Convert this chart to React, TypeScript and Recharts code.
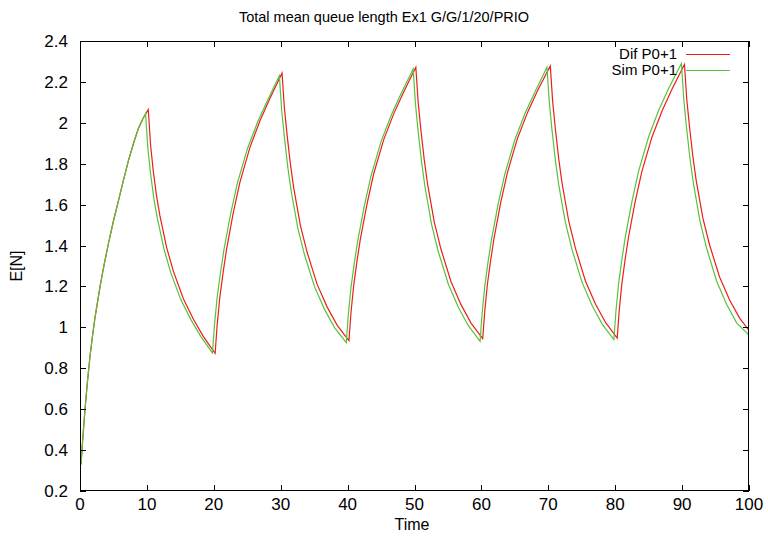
import React from 'react';
import { LineChart, Line, XAxis, YAxis } from 'recharts';

const difTime = [
  0.15, 0.4, 0.75, 1.1, 1.5, 1.9, 2.25, 2.6, 3.0, 3.6, 4.25, 5.0, 5.75, 6.5, 7.2, 8.0, 8.7, 9.4,
  10.2, 10.55, 10.95, 11.45, 11.95, 12.95, 13.95, 15.45, 16.95, 18.45,
  20.2, 20.5, 20.9, 21.4, 21.9, 22.9, 23.9, 25.4, 26.9, 28.4,
  30.2, 30.55, 30.95, 31.45, 31.95, 32.95, 33.95, 35.45, 36.95, 38.45,
  40.2, 40.5, 40.9, 41.4, 41.9, 42.9, 43.9, 45.4, 46.9, 48.4,
  50.2, 50.55, 50.95, 51.45, 51.95, 52.95, 53.95, 55.45, 56.95, 58.45,
  60.2, 60.5, 60.9, 61.4, 61.9, 62.9, 63.9, 65.4, 66.9, 68.4,
  70.3, 70.65, 71.05, 71.55, 72.05, 73.05, 74.05, 75.55, 77.05, 78.55,
  80.3, 80.6, 81.0, 81.5, 82.0, 83.0, 84.0, 85.5, 87.0, 88.5,
  90.35, 90.7, 91.1, 91.6, 92.1, 93.1, 94.1, 95.6, 97.1, 98.6, 100,
];
const difValue = [
  0.33, 0.45, 0.6, 0.73, 0.86, 0.965, 1.05, 1.12, 1.2, 1.305, 1.41, 1.52, 1.62, 1.72, 1.81, 1.9, 1.97, 2.02,
  2.065, 1.89, 1.765, 1.64, 1.545, 1.39, 1.275, 1.14, 1.04, 0.955,
  0.873, 1.01, 1.147, 1.27, 1.38, 1.558, 1.709, 1.88, 2.01, 2.12,
  2.243, 2.073, 1.942, 1.798, 1.681, 1.497, 1.367, 1.21, 1.099, 1.01,
  0.935, 1.069, 1.202, 1.323, 1.43, 1.603, 1.751, 1.918, 2.045, 2.152,
  2.272, 2.099, 1.967, 1.821, 1.701, 1.516, 1.383, 1.224, 1.111, 1.021,
  0.945, 1.078, 1.212, 1.332, 1.438, 1.612, 1.758, 1.925, 2.051, 2.158,
  2.278, 2.105, 1.972, 1.826, 1.706, 1.52, 1.387, 1.227, 1.114, 1.024,
  0.948, 1.082, 1.215, 1.336, 1.443, 1.617, 1.764, 1.931, 2.058, 2.165,
  2.285, 2.114, 1.983, 1.838, 1.72, 1.535, 1.404, 1.246, 1.134, 1.045, 0.985,
];

const simTime = [
  0.15, 0.4, 0.75, 1.1, 1.5, 1.9, 2.25, 2.6, 3.0, 3.6, 4.25, 5.0, 5.75, 6.5, 7.2, 8.0, 8.7, 9.4,
  9.8, 10.15, 10.55, 11.05, 11.55, 12.55, 13.55, 15.05, 16.55, 18.05,
  19.8, 20.1, 20.5, 21.0, 21.5, 22.5, 23.5, 25.0, 26.5, 28.0,
  29.8, 30.15, 30.55, 31.05, 31.55, 32.55, 33.55, 35.05, 36.55, 38.05,
  39.8, 40.1, 40.5, 41.0, 41.5, 42.5, 43.5, 45.0, 46.5, 48.0,
  49.8, 50.15, 50.55, 51.05, 51.55, 52.55, 53.55, 55.05, 56.55, 58.05,
  59.8, 60.1, 60.5, 61.0, 61.5, 62.5, 63.5, 65.0, 66.5, 68.0,
  69.8, 70.15, 70.55, 71.05, 71.55, 72.55, 73.55, 75.05, 76.55, 78.05,
  79.8, 80.1, 80.5, 81.0, 81.5, 82.5, 83.5, 85.0, 86.5, 88.0,
  89.9, 90.25, 90.65, 91.15, 91.65, 92.65, 93.65, 95.15, 96.65, 98.15, 100,
];
const simValue = [
  0.33, 0.45, 0.6, 0.73, 0.86, 0.965, 1.05, 1.12, 1.2, 1.305, 1.41, 1.52, 1.62, 1.72, 1.81, 1.9, 1.97, 2.02,
  2.045, 1.873, 1.751, 1.627, 1.535, 1.383, 1.269, 1.137, 1.039, 0.956,
  0.875, 1.011, 1.146, 1.268, 1.376, 1.553, 1.702, 1.871, 2.0, 2.108,
  2.23, 2.06, 1.93, 1.786, 1.669, 1.486, 1.356, 1.199, 1.088, 0.999,
  0.925, 1.059, 1.193, 1.313, 1.42, 1.594, 1.741, 1.908, 2.036, 2.143,
  2.263, 2.09, 1.957, 1.81, 1.691, 1.504, 1.371, 1.212, 1.098, 1.008,
  0.932, 1.066, 1.2, 1.321, 1.428, 1.602, 1.749, 1.917, 2.044, 2.151,
  2.272, 2.099, 1.966, 1.819, 1.699, 1.513, 1.38, 1.22, 1.107, 1.016,
  0.94, 1.075, 1.21, 1.332, 1.44, 1.615, 1.764, 1.932, 2.061, 2.169,
  2.29, 2.115, 1.981, 1.833, 1.712, 1.523, 1.389, 1.227, 1.113, 1.022, 0.962,
];

const xTicks = [0, 10, 20, 30, 40, 50, 60, 70, 80, 90, 100];
const yTicks = [0.2, 0.4, 0.6, 0.8, 1, 1.2, 1.4, 1.6, 1.8, 2, 2.2, 2.4];
const yTickLabels = ['0.2', '0.4', '0.6', '0.8', '1', '1.2', '1.4', '1.6', '1.8', '2', '2.2', '2.4'];

const seriesNames = ['Dif P0+1', 'Sim P0+1'];
const title = 'Total mean queue length Ex1 G/G/1/20/PRIO';
const xLabel = 'Time';
const yLabel = 'E[N]';

const difData = difTime.map((t, i) => ({ t, v: difValue[i] }));
const simData = simTime.map((t, i) => ({ t, v: simValue[i] }));

const FONT = '"Liberation Sans", Arial, sans-serif';
const RED = '#ee1c1c';
const GREEN = '#55c43a';

const X_MIN = xTicks[0];
const X_MAX = xTicks[xTicks.length - 1];
const Y_MIN = yTicks[0];
const Y_MAX = yTicks[yTicks.length - 1];

// chart geometry
const W = 768;
const H = 538;
const M_TOP = 41;
const M_RIGHT = 19;
const Y_AXIS_W = 80;
const X_AXIS_H = 47;
const PLOT_L = Y_AXIS_W;
const PLOT_T = M_TOP;
const PLOT_W = W - Y_AXIS_W - M_RIGHT;
const PLOT_H = H - M_TOP - X_AXIS_H;
const TICK = 6;

const sx = (t: number) => PLOT_L + ((t - X_MIN) / (X_MAX - X_MIN)) * PLOT_W;
const sy = (v: number) => PLOT_T + ((Y_MAX - v) / (Y_MAX - Y_MIN)) * PLOT_H;

const fmtY = (v: number) => {
  const i = yTicks.findIndex((y) => Math.abs(y - v) < 1e-9);
  return i >= 0 ? yTickLabels[i] : String(v);
};

function Frame() {
  const r = Math.round;
  return (
    <svg width={W} height={H} style={{ position: 'absolute', left: 0, top: 0, pointerEvents: 'none' }} shapeRendering="crispEdges">
      <rect x={PLOT_L + 0.5} y={PLOT_T + 0.5} width={PLOT_W - 1} height={PLOT_H - 1} fill="none" stroke="#000" strokeWidth={1} />
      {xTicks.map((t) => (
        <g key={'x' + t}>
          <line x1={r(sx(t)) + 0.5} x2={r(sx(t)) + 0.5} y1={PLOT_T + PLOT_H} y2={PLOT_T + PLOT_H - TICK} stroke="#000" />
          <line x1={r(sx(t)) + 0.5} x2={r(sx(t)) + 0.5} y1={PLOT_T} y2={PLOT_T + TICK} stroke="#000" />
        </g>
      ))}
      {yTicks.map((v) => (
        <g key={'y' + v}>
          <line x1={PLOT_L} x2={PLOT_L + TICK} y1={r(sy(v)) + 0.5} y2={r(sy(v)) + 0.5} stroke="#000" />
          <line x1={PLOT_L + PLOT_W} x2={PLOT_L + PLOT_W - TICK} y1={r(sy(v)) + 0.5} y2={r(sy(v)) + 0.5} stroke="#000" />
        </g>
      ))}
    </svg>
  );
}

export default function App() {
  const tickStyle = { fontFamily: FONT, fontSize: 17, fill: '#000' };
  const textStyle: React.CSSProperties = { position: 'absolute', fontFamily: FONT, fontSize: 16, lineHeight: '20px', whiteSpace: 'nowrap', color: '#000' };
  return (
    <div style={{ position: 'absolute', left: 0, top: 0, width: W, height: H, background: '#fff' }}>
      <LineChart width={W} height={H} margin={{ top: M_TOP, right: M_RIGHT, bottom: 0, left: 0 }}>
        <XAxis
          type="number"
          dataKey="t"
          domain={[X_MIN, X_MAX]}
          ticks={xTicks}
          orientation="bottom"
          height={X_AXIS_H}
          tickSize={-6}
          tickMargin={13}
          tickLine={false}
          axisLine={false}
          tick={tickStyle}
          allowDataOverflow
        />
        <YAxis
          type="number"
          domain={[Y_MIN, Y_MAX]}
          ticks={yTicks}
          orientation="left"
          width={Y_AXIS_W}
          tickSize={-6}
          tickMargin={18}
          tickLine={false}
          axisLine={false}
          tickFormatter={fmtY}
          tick={tickStyle}
          allowDataOverflow
        />
        <Line
          data={difData}
          dataKey="v"
          type="linear"
          stroke={RED}
          strokeWidth={1.2}
          dot={false}
          isAnimationActive={false}
          name={seriesNames[0]}
        />
        <Line
          data={simData}
          dataKey="v"
          type="linear"
          stroke={GREEN}
          strokeWidth={1.2}
          dot={false}
          isAnimationActive={false}
          name={seriesNames[1]}
        />
      </LineChart>
      <Frame />
      <div style={{ ...textStyle, left: 384, top: 7, fontSize: 14.5, transform: 'translateX(-50%)' }}>{title}</div>
      <div style={{ ...textStyle, left: 412, top: 515, transform: 'translateX(-50%)' }}>{xLabel}</div>
      <div style={{ ...textStyle, left: 17, top: 266, transform: 'translate(-50%, -50%) rotate(-90deg)' }}>{yLabel}</div>
      {seriesNames.map((n, i) => (
        <div key={n} style={{ position: 'absolute', top: 44 + i * 16, left: 560, width: 178, height: 20 }}>
          <span style={{ ...textStyle, right: 61, top: 0, fontSize: 15 }}>{n}</span>
          <div style={{ position: 'absolute', left: 126, top: 10, width: 44, height: 0, borderTop: `1px solid ${i === 0 ? RED : GREEN}` }} />
        </div>
      ))}
    </div>
  );
}
